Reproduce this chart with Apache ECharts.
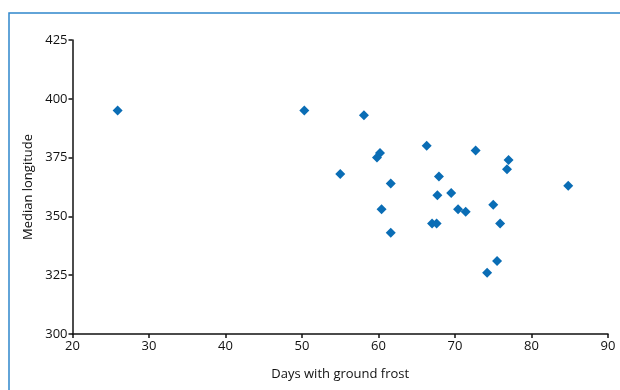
<!DOCTYPE html>
<html><head><meta charset="utf-8">
<script src="https://cdn.jsdelivr.net/npm/echarts@6/dist/echarts.min.js"></script>
<style>html,body{margin:0;padding:0;background:#fff}#c{width:620px;height:390px}</style>
</head><body><div id="c"></div>
<script>
const frostDays = [25.9, 50.3, 58.1, 60.2, 59.8, 55.0, 61.6, 66.3, 72.7, 67.9, 67.7, 69.5, 60.4, 70.4, 71.4, 67.0, 67.6, 61.6, 75.0, 75.9, 75.5, 74.2, 77.0, 76.8, 84.8];
const medianLongitude = [395, 395, 393, 377, 375, 368, 364, 380, 378, 367, 359, 360, 353, 353, 352, 347, 347, 343, 355, 347, 331, 326, 374, 370, 363];
const xTicks = [20, 30, 40, 50, 60, 70, 80, 90];
const yTicks = [300, 325, 350, 375, 400, 425];

const chart = echarts.init(document.getElementById('c'), null, {renderer: 'canvas'});
const font = '"Open Sans", "Noto Sans", sans-serif';
chart.setOption({
  animation: false,
  graphic: [{
    type: 'rect', shape: {x: 9, y: 13, width: 640, height: 400},
    style: {fill: 'none', stroke: '#2f87cc', lineWidth: 1.5}, silent: true
  }],
  grid: {left: 72.5, right: 12, top: 40, bottom: 56},
  xAxis: {
    type: 'value', min: xTicks[0], max: xTicks[xTicks.length - 1], interval: 10,
    name: 'Days with ground frost', nameLocation: 'middle', nameGap: 34,
    nameTextStyle: {fontFamily: font, fontSize: 13, color: '#111'},
    axisLine: {lineStyle: {color: '#111', width: 1.5}},
    axisTick: {show: true, length: 4, lineStyle: {color: '#111', width: 1.5}},
    axisLabel: {fontFamily: font, fontSize: 13, color: '#111', margin: 6},
    splitLine: {show: false}
  },
  yAxis: {
    type: 'value', min: yTicks[0], max: yTicks[yTicks.length - 1], interval: 25,
    name: 'Median longitude', nameLocation: 'middle', nameGap: 36, nameRotate: 90,
    nameTextStyle: {fontFamily: font, fontSize: 13, color: '#111'},
    axisLine: {show: true, lineStyle: {color: '#111', width: 1.5}},
    axisTick: {show: true, length: 4, lineStyle: {color: '#111', width: 1.5}},
    axisLabel: {fontFamily: font, fontSize: 13, color: '#111', margin: 5},
    splitLine: {show: false}
  },
  series: [{
    type: 'scatter',
    symbol: 'path://M0,-1L1,0L0,1L-1,0Z',
    symbolSize: 10,
    itemStyle: {color: '#0a6db5', opacity: 1},
    data: frostDays.map((x, i) => [x, medianLongitude[i]])
  }]
});
</script></body></html>
